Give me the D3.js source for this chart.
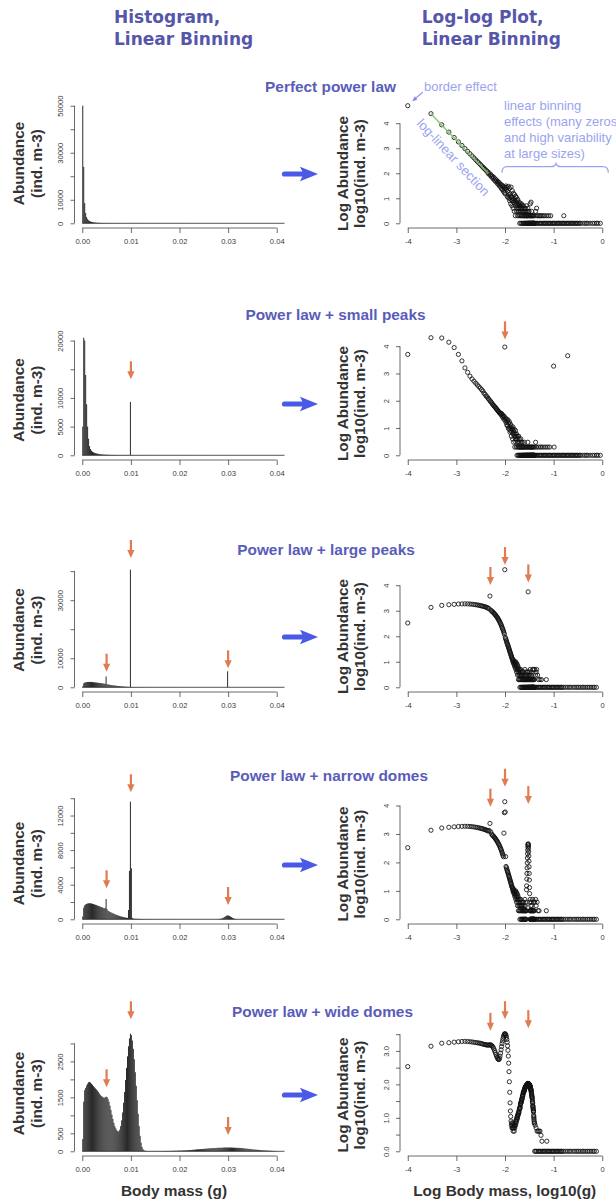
<!DOCTYPE html>
<html>
<head>
<meta charset="utf-8">
<title>Linear binning: histogram vs log-log plot</title>
<script src="https://cdn.jsdelivr.net/npm/d3@7"></script>
<style>
  html, body { margin: 0; padding: 0; background: #ffffff; }
  svg { display: block; }
  .tick text { font-family: "Liberation Sans", Arial, Helvetica, sans-serif; font-size: 7.6px; fill: #3a3a3a; }
  .tick line { stroke: #444; stroke-width: 0.8; }
</style>
</head>
<body>
<svg id="chart" width="616" height="1202"></svg>
<script>
// ---------------- data ----------------
// Abundance (ind. m-3) per linear size bin of 0.0002 g, bins 0 .. 0.04 g
const BIN_WIDTH = 0.0002;

const columnTitles = [["Histogram,", "Linear Binning"], ["Log-log Plot,", "Linear Binning"]];
const panelTitles = ["Perfect power law", "Power law + small peaks", "Power law + large peaks",
                     "Power law + narrow domes", "Power law + wide domes"];

const abundancePerfect = [
  50000, 24000, 8600, 4400, 2670, 1790, 1280, 960, 750, 600,
  490, 410, 345, 296, 257, 225, 198, 176, 158, 142,
  128, 121, 99, 104, 83, 88, 71, 76, 60, 68,
  52, 59, 46, 53, 40, 47, 36, 43, 31, 38,
  28, 35, 24, 33, 22, 30, 19, 28, 17, 26,
  15, 24, 31, 22, 27, 12, 19, 11, 30, 14,
  10, 25, 8, 15, 12, 6, 28, 9, 11, 5,
  20, 8, 10, 4, 16, 7, 9, 3, 14, 6,
  8, 2, 12, 5, 7, 11, 3, 6, 4, 8,
  2, 9, 5, 3, 6, 4, 2, 7, 3, 5,
  1, 4, 6, 2, 3, 5, 1, 4, 2, 6,
  3, 1, 5, 2, 4, 0, 3, 1, 2, 5,
  1, 3, 0, 2, 4, 1, 2, 0, 3, 1,
  2, 4, 1, 0, 3, 1, 2, 5, 1, 2,
  0, 3, 1, 2, 1, 0, 2, 4, 1, 1,
  3, 0, 1, 2, 0, 1, 3, 1, 0, 2,
  1, 1, 0, 2, 1, 6, 0, 1, 2, 1,
  0, 7, 2, 0, 1, 1, 3, 0, 1, 2,
  1, 0, 1, 2, 0, 1, 1, 0, 2, 1,
  0, 1, 1, 0, 2, 1, 0, 1, 1, 0
];

const abundanceSmallPeaks = [
  5000, 20500, 20000, 14000, 8900, 5000, 2900, 1600, 1100, 800,
  630, 520, 440, 380, 330, 290, 255, 228, 190, 172,
  150, 138, 122, 112, 100, 92, 84, 77, 70, 66,
  61, 58, 53, 50, 46, 44, 41, 39, 36, 35,
  35, 31, 34, 27, 30, 24, 28, 21, 26, 9300,
  19, 23, 16, 21, 13, 18, 12, 20, 10, 15,
  9, 17, 11, 7, 14, 8, 12, 5, 10, 7,
  9, 4, 11, 6, 8, 3, 7, 9, 5, 2,
  6, 4, 8, 3, 5, 2, 6, 4, 1, 5,
  3, 2, 4, 1, 3, 5, 2, 1, 4, 2,
  1, 3, 2, 0, 1, 4, 2, 1, 3, 1,
  2, 0, 1, 3, 1, 2, 1, 0, 2, 1,
  1, 2, 0, 1, 3, 1, 0, 2, 1, 1,
  0, 1, 2, 1, 0, 1, 1, 2, 0, 1,
  1, 0, 2, 1, 1, 0, 1, 3, 1, 0,
  1, 2, 0, 1, 1, 0, 2, 1, 1, 0,
  1, 1, 2, 0, 1, 0, 1, 1, 2, 1,
  0, 1, 1, 0, 2, 1, 1, 0, 1, 1,
  2, 0, 1, 1, 0, 1, 2, 1, 0, 1,
  1, 0, 1, 2, 0, 1, 1, 0, 1, 1
];

const abundanceLargePeaks = [
  330, 1350, 1620, 1720, 1780, 1830, 1850, 1860, 1850, 1830,
  1800, 1760, 1720, 1680, 1640, 1590, 1550, 1510, 1460, 1410,
  1380, 1320, 1260, 1200, 3750, 1050, 980, 920, 860, 800,
  750, 700, 645, 595, 550, 507, 462, 422, 385, 347,
  313, 282, 251, 224, 200, 178, 158, 138, 120, 40500,
  91, 81, 72, 65, 58, 52, 47, 43, 39, 35,
  32, 29, 26, 24, 22, 20, 18, 17, 15, 14,
  13, 12, 10, 12, 9, 11, 8, 10, 7, 9,
  6, 8, 10, 5, 7, 9, 4, 6, 8, 5,
  3, 7, 4, 6, 2, 5, 3, 4, 2, 5,
  3, 1, 4, 2, 3, 5, 1, 2, 4, 3,
  1, 2, 3, 1, 4, 2, 1, 3, 2, 1,
  2, 4, 1, 2, 3, 1, 2, 1, 5, 2,
  1, 3, 2, 1, 2, 4, 1, 2, 3, 1,
  2, 1, 3, 1, 2, 4, 1, 2, 1, 5500,
  2, 1, 3, 1, 2, 1, 4, 1, 2, 1,
  3, 1, 2, 1, 2, 5, 1, 2, 1, 3,
  1, 2, 1, 4, 1, 2, 1, 1, 3, 1,
  2, 1, 1, 2, 1, 5, 1, 2, 1, 1,
  2, 1, 1, 5, 1, 1, 2, 1, 1, 2
];

const abundanceNarrowDomes = [
  330, 1350, 1620, 1720, 1780, 1830, 1850, 1860, 1850, 1830,
  1800, 1760, 1720, 1680, 1640, 1590, 1550, 1510, 1460, 1410,
  1380, 1320, 1260, 1330, 2350, 1180, 980, 920, 860, 800,
  750, 700, 645, 595, 550, 507, 462, 422, 385, 347,
  313, 282, 251, 224, 200, 178, 158, 1070, 5600, 13600,
  5900, 160, 72, 65, 58, 52, 47, 43, 39, 35,
  32, 29, 26, 24, 22, 20, 18, 17, 15, 14,
  13, 12, 10, 12, 9, 11, 8, 10, 7, 9,
  6, 8, 10, 5, 7, 9, 4, 6, 8, 5,
  3, 7, 4, 6, 2, 5, 3, 4, 2, 5,
  3, 1, 4, 2, 3, 5, 1, 2, 4, 3,
  1, 2, 3, 1, 4, 2, 1, 3, 2, 1,
  2, 4, 1, 2, 3, 1, 2, 1, 5, 2,
  1, 3, 2, 1, 2, 4, 1, 2, 11, 15,
  26, 41, 64, 96, 142, 201, 272, 352, 421, 447,
  432, 381, 312, 236, 167, 111, 70, 41, 24, 13,
  8, 4, 2, 1, 2, 5, 1, 2, 1, 3,
  1, 2, 1, 4, 1, 2, 1, 1, 3, 1,
  2, 1, 1, 2, 1, 5, 1, 2, 1, 1,
  2, 1, 1, 4, 1, 1, 2, 1, 1, 2
];

const abundanceWideDomes = [
  340, 1380, 1700, 1760, 1830, 1880, 1920, 1930, 1910, 1880,
  1850, 1810, 1780, 1750, 1720, 1690, 1650, 1610, 1570, 1540,
  1520, 1500, 1490, 1500, 1520, 1510, 1460, 1380, 1270, 1150,
  1020, 900, 790, 700, 640, 590, 560, 550, 600, 700,
  860, 1080, 1350, 1650, 1980, 2320, 2640, 2920, 3140, 3270,
  3230, 3080, 2850, 2560, 2200, 1820, 1420, 1040, 700, 430,
  240, 120, 58, 28, 16, 11, 8, 6, 7, 5,
  6, 5, 7, 4, 5, 6, 5, 4, 6, 5,
  6, 7, 6, 8, 7, 9, 8, 10, 9, 11,
  10, 12, 13, 12, 14, 15, 14, 16, 18, 19,
  20, 19, 21, 24, 26, 27, 28, 30, 31, 33,
  35, 38, 37, 42, 45, 44, 48, 51, 57, 55,
  58, 60, 62, 64, 64, 70, 72, 74, 76, 79,
  81, 86, 85, 87, 88, 90, 92, 90, 95, 96,
  98, 99, 100, 98, 102, 103, 107, 104, 105, 105,
  105, 104, 104, 106, 102, 101, 100, 99, 95, 96,
  95, 93, 91, 92, 86, 84, 81, 75, 75, 72,
  69, 66, 66, 60, 57, 54, 48, 48, 45, 42,
  39, 40, 34, 31, 29, 27, 22, 23, 21, 19,
  18, 16, 15, 16, 12, 11, 10, 9, 8, 7
];

// Bins above 0.04 g (outside the histogram window): [log10 body mass, abundance]
const tailPerfect = [[-1.38, 2], [-1.37, 3], [-1.35, 4], [-1.34, 2], [-1.32, 2], [-1.29, 2], [-1.27, 2],
  [-1.24, 2], [-1.21, 2], [-1.18, 2], [-1.14, 2], [-1.1, 2], [-1.06, 2], [-0.79, 2]];
const tailSmallPeaks = [[-1.38, 2], [-1.37, 3], [-1.35, 2], [-1.31, 2], [-1.27, 2], [-1.24, 2], [-1.2, 2],
  [-1.16, 2], [-1.12, 2], [-1.08, 2], [-0.99, 2], [-1.0, 1860], [-0.71, 4470]];
const tailLargePeaks = [[-1.39, 5], [-1.37, 3], [-1.36, 4], [-1.35, 5], [-1.33, 3], [-1.31, 2], [-1.28, 2],
  [-1.25, 2], [-1.15, 2]];
const tailNarrowDomes = [[-1.39, 4], [-1.37, 5], [-1.36, 3], [-1.34, 4], [-1.32, 2], [-1.3, 2], [-1.15, 2]];
const tailWideDomes = [[-1.39, 7], [-1.38, 6], [-1.36, 5], [-1.34, 4], [-1.32, 4], [-1.3, 4], [-1.28, 4],
  [-1.26, 3], [-1.24, 2], [-1.14, 2]];

// Large-size bins holding a single individual (log10 body mass)
const singleCountsA = [-1.39, -1.37, -1.35, -1.33, -1.3, -1.28, -1.26, -1.24, -1.21, -1.19, -1.17, -1.15,
  -1.12, -1.1, -1.08, -1.06, -1.03, -1.01, -0.99, -0.97, -0.94, -0.92, -0.9, -0.88, -0.85, -0.83, -0.81,
  -0.79, -0.77, -0.74, -0.72, -0.7, -0.68, -0.65, -0.63, -0.61, -0.59, -0.56, -0.54, -0.52, -0.5, -0.47,
  -0.45, -0.41, -0.36, -0.33, -0.3, -0.25, -0.2, -0.16, -0.12, -0.09, -0.04];
const singleCountsB = [-1.39, -1.37, -1.35, -1.32, -1.3, -1.28, -1.26, -1.23, -1.21, -1.19, -1.17, -1.14,
  -1.12, -1.1, -1.08, -1.05, -1.03, -1.01, -0.99, -0.96, -0.94, -0.92, -0.9, -0.87, -0.85, -0.83, -0.8,
  -0.76, -0.72, -0.68, -0.65, -0.6, -0.56, -0.52, -0.49, -0.45, -0.41, -0.38, -0.34, -0.3, -0.27, -0.23,
  -0.19, -0.16, -0.12];

// Peak markers: histogram [mass g, abundance at arrow tip], log-log [log10 mass, log10 abundance at tip]
const histMarkers = [[], [[0.01, 13250]], [[0.005, 5370], [0.01, 44530], [0.03, 6540]],
  [[0.005, 3585], [0.01, 14690], [0.03, 1654]], [[0.005, 1780], [0.01, 3671], [0.03, 453]]];
const logMarkers = [[], [[-2.0, 4.25]], [[-2.3, 4.01], [-2.0, 4.79], [-1.52, 4.11]],
  [[-2.3, 3.96], [-2.0, 4.66], [-1.52, 4.05]], [[-2.3, 3.6], [-2.0, 3.95], [-1.52, 3.68]]];

// Bins spanned by the fitted log-linear section (perfect power law)
const logLinearBins = [1, 22];

// Axis ticks
const histXTicks = [0, 0.01, 0.02, 0.03, 0.04];
const logXTicks = [-4, -3, -2, -1, 0];
const histYTicks = [[0, 10000, 20000, 30000, 40000, 50000], [0, 5000, 10000, 15000, 20000],
  [0, 10000, 20000, 30000, 40000], [0, 2000, 4000, 6000, 8000, 10000, 12000, 14000],
  [0, 500, 1000, 1500, 2000, 2500, 3000]];
const histYTickLabels = [[0, 10000, 30000, 50000], [0, 5000, 10000, 20000], [0, 10000, 30000],
  [0, 4000, 8000, 12000], [0, 500, 1500, 2500]];
const logYTicks = [[0, 1, 2, 3, 4], [0, 1, 2, 3, 4], [0, 1, 2, 3, 4], [0, 1, 2, 3, 4],
  [0, 0.5, 1, 1.5, 2, 2.5, 3, 3.5]];
const logYTickLabels = [[0, 1, 2, 3, 4], [0, 1, 2, 3, 4], [0, 1, 2, 3, 4], [0, 1, 2, 3, 4], [0, 1, 2, 3]];
const logYDecimals = [0, 0, 0, 0, 1];

const histYLabel = ["Abundance", "(ind. m-3)"];
const logYLabel = ["Log Abundance", "log10(ind. m-3)"];
const histXLabel = "Body mass (g)";
const logXLabel = "Log Body mass, log10(g)";

const notes = {
  border: "border effect",
  section: "log-linear section",
  binning: ["linear binning", "effects (many zeros", "and high variability", "at large sizes)"]
};

// ---------------- layout & style ----------------
const FONT = '"Liberation Sans", Arial, Helvetica, sans-serif';
const HEAD_FONT = '"DejaVu Sans", Verdana, sans-serif';
const HEAD_COLOR = "#5556aa";
const TITLE_COLOR = "#5a5cba";
const NOTE_COLOR = "#9ba3f0";
const ORANGE = "#e07c52";
const BLUE = "#4a5ae6";
const GREEN = "#84c46f";

const PLOT_H = 127;
const HIST_RANGE = [74.5, 284.5];
const LOG_RANGE = [400, 610];
const rowBottom = r => 228 + 232 * r;
const titleX = [330.5, 335.5, 326, 329, 322.5];
const titleBaseline = [91.5, 319.5, 554.8, 781.2, 1016.5];
const blueArrowY = [174, 404, 637, 865, 1095];
const histLabelCY = [163.5, 400, 630, 863.5, 1093.5];
const logLabelCY = [173.5, 403.5, 636.5, 864, 1095];

const panels = panelTitles.map((title, r) => ({
  title,
  hist: [abundancePerfect, abundanceSmallPeaks, abundanceLargePeaks, abundanceNarrowDomes, abundanceWideDomes][r],
  tail: [tailPerfect, tailSmallPeaks, tailLargePeaks, tailNarrowDomes, tailWideDomes][r],
  singles: r < 2 ? singleCountsA : singleCountsB
}));

const pad4 = ([a, b]) => [a - (b - a) * 0.04, b + (b - a) * 0.04];
const svg = d3.select("#chart");

// ---------------- column headings ----------------
columnTitles.forEach((lines, c) => {
  const t = svg.append("text")
    .attr("font-family", HEAD_FONT).attr("font-weight", "bold").attr("font-size", 17)
    .attr("fill", HEAD_COLOR);
  lines.forEach((s, k) => t.append("tspan").attr("x", [114, 421.7][c]).attr("y", [22.7, 45][k]).text(s));
});

// ---------------- helpers ----------------
function drawXAxis(g, scale, ticks, fmt, y) {
  const a = g.append("g").attr("transform", `translate(0,${y})`)
    .call(d3.axisBottom(scale).tickValues(ticks).tickSize(5).tickPadding(6).tickFormat(fmt));
  a.select(".domain").remove();
  a.attr("font-family", null).attr("font-size", null);
  a.append("line").attr("x1", scale(ticks[0])).attr("x2", scale(ticks[ticks.length - 1]))
    .attr("y1", 0).attr("y2", 0).attr("stroke", "#444").attr("stroke-width", 0.8);
}

function drawYAxis(g, scale, ticks, labelled, fmt, x) {
  const a = g.append("g").attr("transform", `translate(${x},0)`)
    .call(d3.axisLeft(scale).tickValues(ticks).tickSize(4)
      .tickFormat(d => labelled.includes(d) ? fmt(d) : ""));
  a.select(".domain").remove();
  a.attr("font-family", null).attr("font-size", null);
  a.selectAll(".tick text").attr("x", null).attr("dy", null)
    .attr("text-anchor", "middle").attr("transform", "translate(-11.5,0) rotate(-90)");
  a.append("line").attr("x1", 0).attr("x2", 0)
    .attr("y1", scale(ticks[0])).attr("y2", scale(ticks[ticks.length - 1]))
    .attr("stroke", "#444").attr("stroke-width", 0.8);
}

function twoLineLabel(cx, cy, lines, baselines) {
  lines.forEach((s, k) => {
    svg.append("text").attr("transform", `translate(${baselines[k]},${cy}) rotate(-90)`)
      .attr("text-anchor", "middle").attr("font-family", FONT).attr("font-weight", "bold")
      .attr("font-size", 15.3).attr("fill", "#333").text(s);
  });
}

function orangeArrow(g, x, tipY) {
  g.append("line").attr("x1", x).attr("x2", x).attr("y1", tipY - 18).attr("y2", tipY - 6)
    .attr("stroke", ORANGE).attr("stroke-width", 2.2);
  g.append("path").attr("d", `M${x},${tipY} L${x - 3.6},${tipY - 8} L${x + 3.6},${tipY - 8} Z`)
    .attr("fill", ORANGE);
}

// ---------------- panels ----------------
panels.forEach((p, r) => {
  const b = rowBottom(r);
  const g = svg.append("g");

  // ---- histogram (linear scale) ----
  const hx = d3.scaleLinear().domain(pad4([0, 0.04])).range(HIST_RANGE);
  const hy = d3.scaleLinear().domain(pad4([0, d3.max(p.hist)])).range([b, b - PLOT_H]);
  const bins = p.hist.map((v, i) => ({ i, v })).filter(d => d.v > 0);

  g.append("line").attr("x1", hx(0)).attr("x2", HIST_RANGE[1]).attr("y1", hy(0)).attr("y2", hy(0))
    .attr("stroke", "#555").attr("stroke-width", 1);
  g.append("g").selectAll("rect").data(bins).join("rect")
    .attr("x", d => hx(d.i * BIN_WIDTH))
    .attr("width", d => hx((d.i + 1) * BIN_WIDTH) - hx(d.i * BIN_WIDTH))
    .attr("y", d => hy(d.v))
    .attr("height", d => hy(0) - hy(d.v))
    .attr("fill", "#262626");

  drawXAxis(g, hx, histXTicks, d3.format(".2f"), b);
  drawYAxis(g, hy, histYTicks[r], histYTickLabels[r], d => String(d), HIST_RANGE[0]);
  histMarkers[r].forEach(([m, v]) => orangeArrow(g, hx(m), hy(v)));
  twoLineLabel(0, histLabelCY[r], histYLabel, [23.5, 41.5]);

  // ---- log-log plot of the same bins ----
  const pts = bins.map(d => [Math.log10((d.i + 0.5) * BIN_WIDTH), Math.log10(d.v)])
    .concat(p.tail.map(([lm, v]) => [lm, Math.log10(v)]))
    .concat(p.singles.map(lm => [lm, Math.log10(1)]));
  const lx = d3.scaleLinear().domain(pad4([-4, 0])).range(LOG_RANGE);
  const ly = d3.scaleLinear().domain(pad4([0, d3.max(pts, d => d[1])])).range([b, b - PLOT_H]);

  g.append("g").selectAll("circle").data(pts).join("circle")
    .attr("cx", d => lx(d[0])).attr("cy", d => ly(d[1])).attr("r", 2.1)
    .attr("fill", "none").attr("stroke", "#111").attr("stroke-width", 0.85);

  drawXAxis(g, lx, logXTicks, d => String(d), b);
  drawYAxis(g, ly, logYTicks[r], logYTickLabels[r], d => d.toFixed(logYDecimals[r]), LOG_RANGE[0]);
  logMarkers[r].forEach(([m, v]) => orangeArrow(g, lx(m), ly(v)));
  twoLineLabel(0, logLabelCY[r], logYLabel, [347.5, 365]);

  if (r === 0) {
    // fitted log-linear section
    const ends = logLinearBins.map(i => [Math.log10((i + 0.5) * BIN_WIDTH), Math.log10(p.hist[i])]);
    g.append("path").attr("d", d3.line().x(d => lx(d[0])).y(d => ly(d[1]))(ends))
      .attr("stroke", GREEN).attr("stroke-width", 1.6).attr("fill", "none").attr("opacity", 0.9);

    // annotations
    const first = [Math.log10(0.5 * BIN_WIDTH), Math.log10(p.hist[0])];
    const fx = lx(first[0]), fy = ly(first[1]);
    g.append("line").attr("x1", fx + 15).attr("y1", fy - 13.5).attr("x2", fx + 7.5).attr("y2", fy - 7)
      .attr("stroke", "#7f88ee").attr("stroke-width", 1.1);
    g.append("path").attr("d", `M${fx + 4.5},${fy - 4.5} L${fx + 9.5},${fy - 6} L${fx + 7},${fy - 9.5} Z`)
      .attr("fill", "#7f88ee");
    g.append("text").attr("x", 424).attr("y", 90.7).attr("font-family", FONT).attr("font-size", 13)
      .attr("fill", NOTE_COLOR).text(notes.border);
    g.append("text").attr("transform", "translate(416,124) rotate(47)").attr("font-family", FONT)
      .attr("font-size", 13.2).attr("fill", NOTE_COLOR).text(notes.section);
    notes.binning.forEach((s, k) => {
      g.append("text").attr("x", 504).attr("y", 110 + 16.1 * k).attr("font-family", FONT)
        .attr("font-size", 13).attr("fill", NOTE_COLOR).text(s);
    });
    g.append("path")
      .attr("d", "M502,172.7 Q502,166.7 507,166.7 L551,166.7 Q555,166.7 556,163.5 Q557,166.7 561,166.7 L603,166.7 Q608.3,166.7 608.3,172.7")
      .attr("fill", "none").attr("stroke", NOTE_COLOR).attr("stroke-width", 1.2);
  }

  // panel title and connecting arrow
  svg.append("text").attr("x", titleX[r]).attr("y", titleBaseline[r]).attr("text-anchor", "middle")
    .attr("font-family", FONT).attr("font-weight", "bold").attr("font-size", 15.4)
    .attr("fill", TITLE_COLOR).text(p.title);
  const ay = blueArrowY[r];
  svg.append("line").attr("x1", 284.5).attr("x2", 304).attr("y1", ay).attr("y2", ay)
    .attr("stroke", BLUE).attr("stroke-width", 5.2).attr("stroke-linecap", "round");
  svg.append("path").attr("d", `M318,${ay} L300,${ay - 7.3} L303.5,${ay} L300,${ay + 7.3} Z`)
    .attr("fill", BLUE);
});

// bottom axis titles
svg.append("text").attr("x", 174).attr("y", 1196).attr("text-anchor", "middle")
  .attr("font-family", FONT).attr("font-weight", "bold").attr("font-size", 15.4).attr("fill", "#333")
  .text(histXLabel);
svg.append("text").attr("x", 504.7).attr("y", 1196).attr("text-anchor", "middle")
  .attr("font-family", FONT).attr("font-weight", "bold").attr("font-size", 15.4).attr("fill", "#333")
  .text(logXLabel);
</script>
</body>
</html>
